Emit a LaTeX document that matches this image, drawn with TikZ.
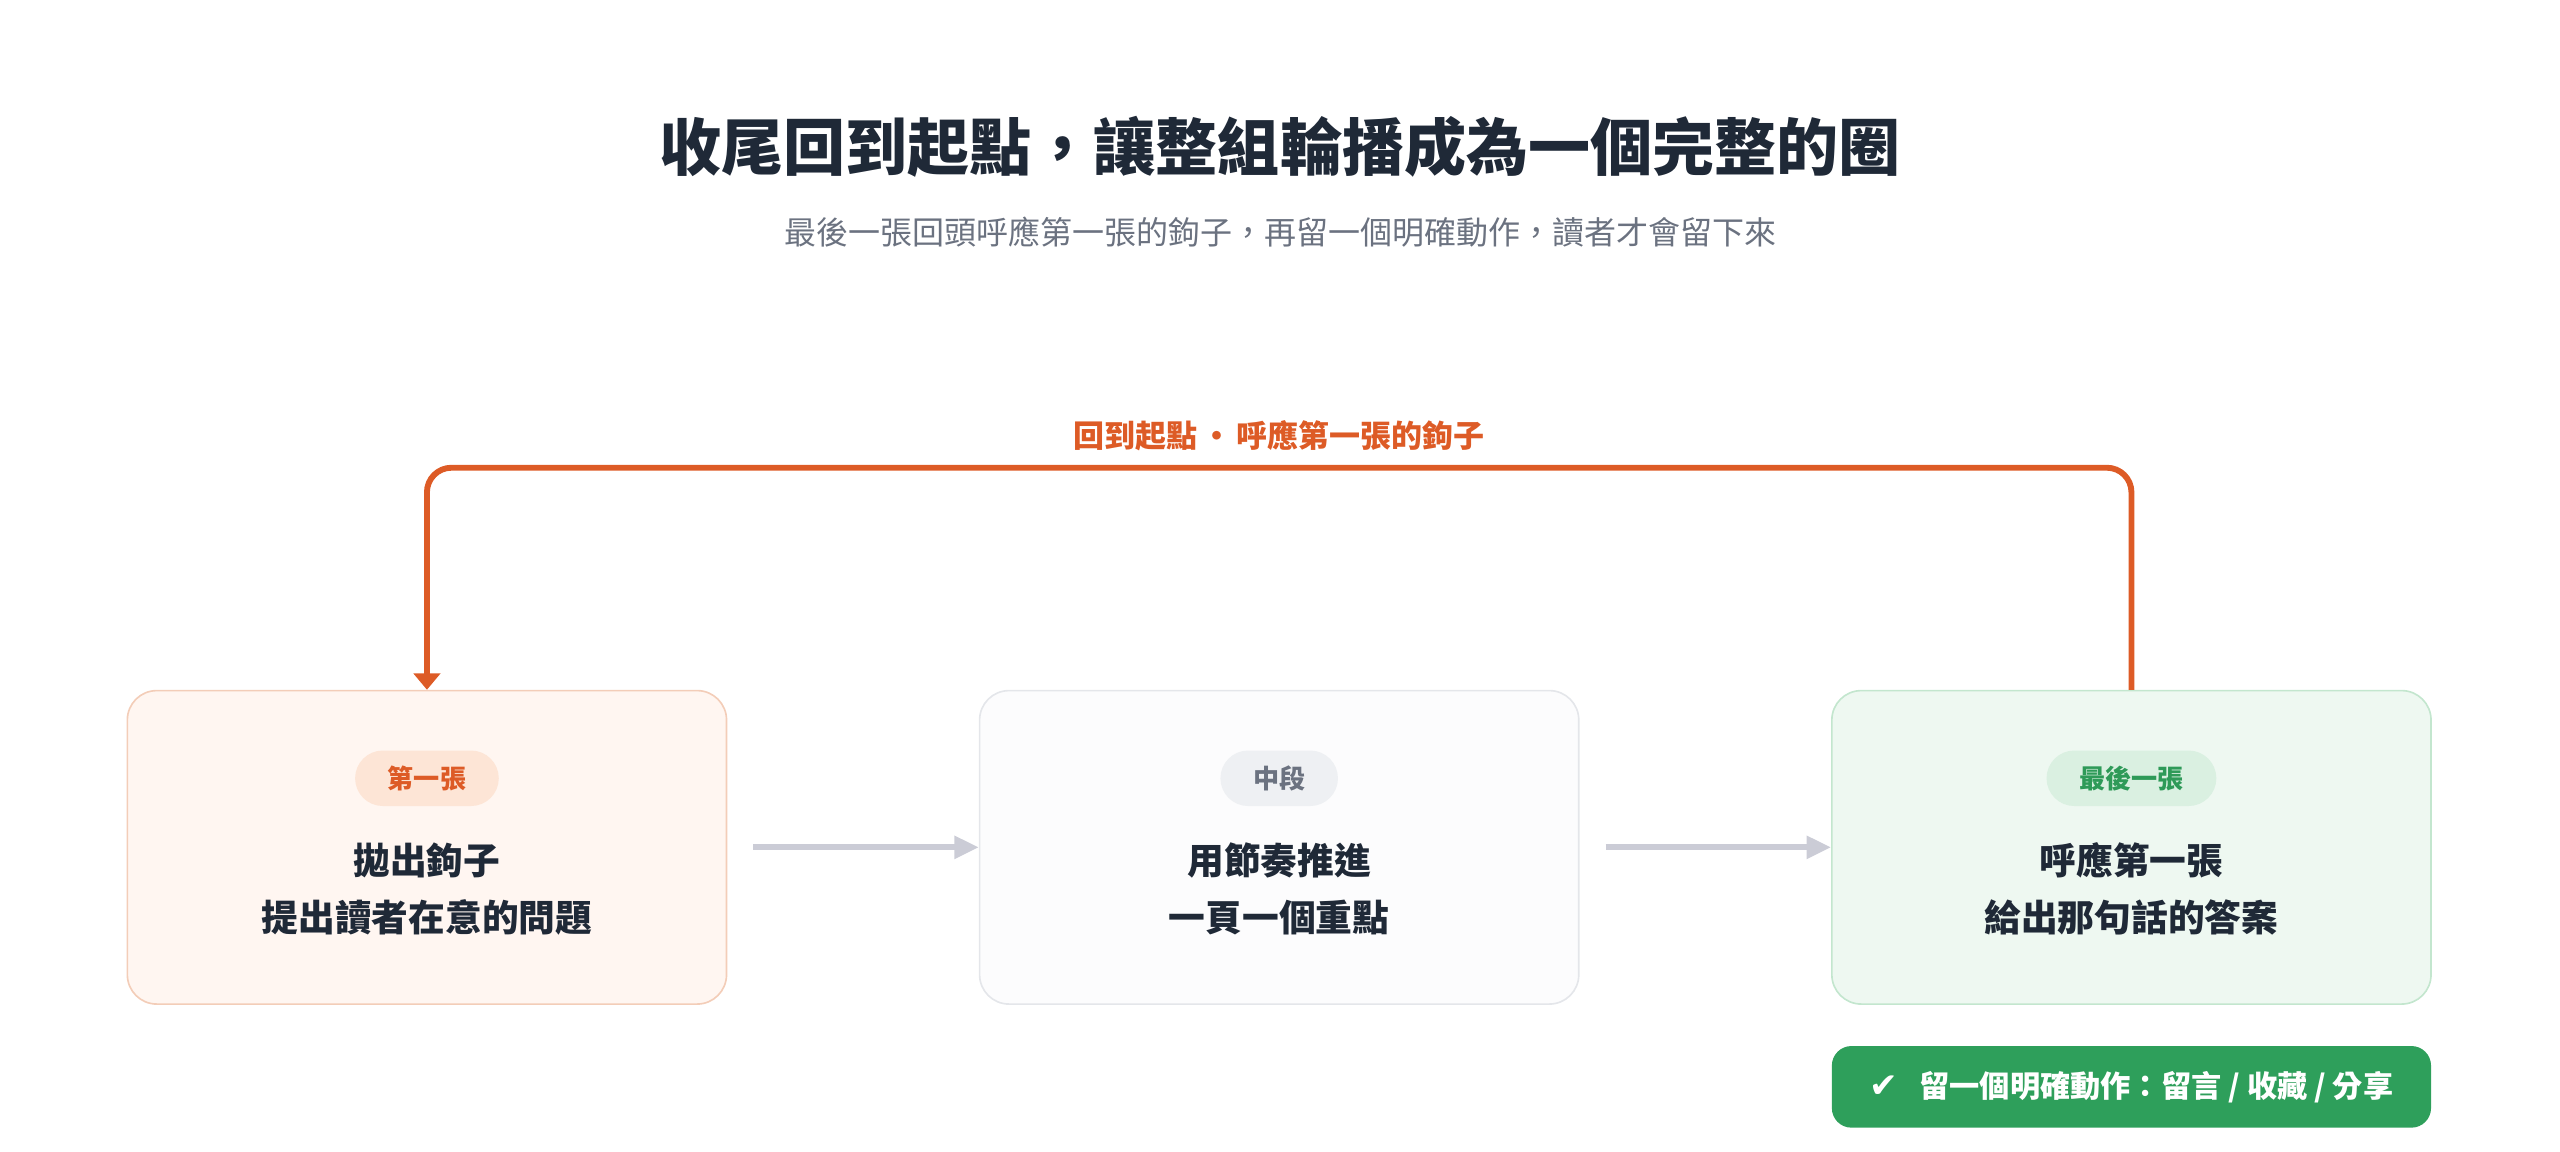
\documentclass[tikz,border=0pt]{standalone}
\usepackage{fontspec}
\setmainfont{Noto Sans CJK TC}
\newfontfamily\symfont{DejaVu Sans}
\usepackage{tikz}
\usetikzlibrary{arrows.meta, positioning}
\definecolor{ink}{HTML}{1F2937}
\definecolor{muted}{HTML}{6B7280}
\definecolor{hookorange}{HTML}{DD5B26}
\definecolor{hookfill}{HTML}{FFF6F1}
\definecolor{hookline}{HTML}{F3CDB8}
\definecolor{hooktag}{HTML}{FDE5D6}
\definecolor{midfill}{HTML}{FCFCFD}
\definecolor{midline}{HTML}{E4E6EA}
\definecolor{midtag}{HTML}{EEF0F3}
\definecolor{endfill}{HTML}{EEF8F1}
\definecolor{endline}{HTML}{C3E6CE}
\definecolor{endtag}{HTML}{DAF0E1}
\definecolor{endgreen}{HTML}{2E9A58}
\definecolor{ctagreen}{HTML}{2E9F5B}
\definecolor{arrowgray}{HTML}{CBCCD6}
\tikzstyle{card} = [draw, line width=1pt, rounded corners=18pt, minimum width=367pt, minimum height=192pt]
\tikzstyle{tag} = [rounded corners=17pt, minimum height=34pt, inner xsep=20pt, font=\fontsize{16}{16}\selectfont\bfseries]
\tikzstyle{body} = [align=center, text=ink, font=\fontsize{22.5}{35}\selectfont\bfseries]
\tikzstyle{flow} = [line width=3.5pt, draw=arrowgray, -{Triangle[width=13.5pt,length=15pt]}]
\tikzstyle{backline} = [line width=3.6pt, draw=hookorange, rounded corners=15pt, -{Triangle[width=16pt,length=10pt]}]
\tikzstyle{action} = [fill=ctagreen, text=white, rounded corners=12pt, minimum width=367pt, minimum height=50pt, font=\fontsize{18.5}{18.5}\selectfont\bfseries]

\begin{document}
\begin{tikzpicture}[x=1pt, y=1pt]
    \useasboundingbox (0,0) rectangle (1568,705.6);
    \node[font=\fontsize{38}{38}\selectfont\bfseries, text=ink] (title) at (784,615.6) {收尾回到起點，讓整組輪播成為一個完整的圈};
    \node[font=\fontsize{19.6}{19.6}\selectfont, text=muted] (subtitle) at (784,563.6) {最後一張回頭呼應第一張的鉤子，再留一個明確動作，讀者才會留下來};

    \node[card, draw=hookline, fill=hookfill] (hook) at (261.5,186.6) {};
    \node[card, draw=midline, fill=midfill, right=154pt of hook] (mid) {};
    \node[card, draw=endline, fill=endfill, right=154pt of mid] (final) {};

    \node[tag, fill=hooktag, text=hookorange, below=37pt of hook.north] (hook-tag) {第一張};
    \node[tag, fill=midtag, text=muted, below=37pt of mid.north] (mid-tag) {中段};
    \node[tag, fill=endtag, text=endgreen, below=37pt of final.north] (final-tag) {最後一張};

    \node[body] (hook-text) at ([yshift=-25.5pt]hook.center) {拋出鉤子\\提出讀者在意的問題};
    \node[body] (mid-text) at ([yshift=-25.5pt]mid.center) {用節奏推進\\一頁一個重點};
    \node[body] (final-text) at ([yshift=-25.5pt]final.center) {呼應第一張\\給出那句話的答案};

    \draw[flow, shorten <=16pt] (hook) -- (mid);
    \draw[flow, shorten <=16pt] (mid) -- (final);
    \draw[backline] (final.north) -- ++(0,136) -| node[pos=0.25, above=5pt, text=hookorange, font=\fontsize{19}{19}\selectfont\bfseries] (back-label) {回到起點\hspace{0.12em}・\hspace{0.12em}呼應第一張的鉤子} (hook.north);

    \node[action, below=25pt of final] (cta) {{\symfont\bfseries\fontsize{21}{21}\selectfont ✔}\hspace{13pt}留一個明確動作：留言 / 收藏 / 分享};
\end{tikzpicture}
\end{document}
